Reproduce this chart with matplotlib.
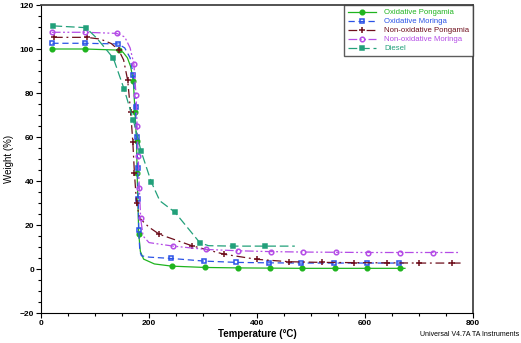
import matplotlib
matplotlib.use("Agg")
import matplotlib.pyplot as plt
from matplotlib.legend_handler import HandlerLine2D

plt.rcParams['font.family'] = ['Liberation Sans', 'DejaVu Sans']

# Oxidative Pongamia
ox_pon_x = [20, 81.5, 144, 152, 160, 166, 171, 174, 177, 178, 181, 184, 190, 210, 242, 304, 364, 424, 484, 544, 604, 665, 674]
ox_pon_y = [100, 100, 99.5, 98.5, 96, 92, 85.5, 71.5, 58, 43.6, 16, 8, 4.5, 2.3, 1.3, 0.7, 0.5, 0.4, 0.3, 0.3, 0.3, 0.3, 0.3]
ox_pon_mk = [0, 1, 2, 6, 7, 8, 9, 10, 14, 15, 16, 17, 18, 19, 20, 21]

# Oxidative Moringa
ox_mor_x = [21, 81.5, 143, 155, 165, 171, 175, 177, 179, 180, 181, 183, 186, 200, 241, 302, 362, 422, 482, 542, 603, 663, 672]
ox_mor_y = [102.6, 102.6, 102.3, 100.5, 96, 88, 73.8, 60, 45.7, 31.8, 17.7, 8, 6, 5.4, 4.8, 3.6, 3.0, 2.8, 2.7, 2.7, 2.7, 2.7, 2.7]
ox_mor_mk = [0, 1, 2, 5, 6, 7, 8, 9, 10, 14, 15, 16, 17, 18, 19, 20, 21]

# Non-oxidative Pongamia
nox_pon_x = [24, 84.6, 110, 130, 144, 153, 160.5, 166, 170, 173, 177, 183, 200, 219, 279, 339.5, 399.5, 460, 520, 580, 640, 700.5, 762, 777]
nox_pon_y = [105.3, 105.3, 104.5, 102.5, 99.5, 95, 85.8, 71.5, 57.9, 43.6, 29.8, 23, 19, 15.8, 10.6, 6.7, 4.4, 3.3, 3.0, 2.9, 2.8, 2.7, 2.7, 2.7]
nox_pon_mk = [0, 1, 4, 6, 7, 8, 9, 10, 13, 14, 15, 16, 17, 18, 19, 20, 21, 22]

# Non-oxidative Moringa
nox_mor_x = [20, 81.5, 140, 155, 165, 172, 176, 178, 180, 182, 184.6, 189, 200, 245, 305, 364, 425, 486, 546, 605, 665, 725, 773]
nox_mor_y = [107.6, 107.6, 107.1, 105.5, 100.5, 93.2, 79, 65, 51.4, 37, 23, 15, 12, 10.4, 8.9, 8.3, 7.9, 7.7, 7.6, 7.5, 7.5, 7.5, 7.5]
nox_mor_mk = [0, 1, 2, 5, 6, 7, 8, 9, 10, 13, 14, 15, 16, 17, 18, 19, 20, 21]

# Diesel
diesel_x = [23, 83, 103, 120, 134, 154, 171, 185, 204, 220, 248, 294, 310, 355, 415, 470]
diesel_y = [110.5, 109.7, 105, 100, 95.8, 81.7, 67.7, 53.8, 39.7, 31, 25.8, 12, 10.6, 10.4, 10.4, 10.4]
diesel_mk = [0, 1, 4, 5, 6, 7, 8, 10, 11, 13, 14]


class LeftMarker(HandlerLine2D):
    # marker at the left end of the legend line, like the TA software
    def get_xdata(self, legend, xdescent, ydescent, width, height, fontsize):
        return [-xdescent, -xdescent + width], [-xdescent]


fig = plt.figure(figsize=(5.21, 3.43), dpi=100)
ax = fig.add_axes([41 / 521, 1 - 313 / 343, 432 / 521, 308 / 343])

series = [
    (ox_pon_x, ox_pon_y, ox_pon_mk, '#1fb41f', '-', 'o', True, 'Oxidative Pongamia'),
    (ox_mor_x, ox_mor_y, ox_mor_mk, '#2a52e6', (0, (5, 3)), 's', False, 'Oxidative Moringa'),
    (nox_pon_x, nox_pon_y, nox_pon_mk, '#6e0f1c', (0, (7, 3, 1.5, 3)), '+', True, 'Non-oxidative Pongamia'),
    (nox_mor_x, nox_mor_y, nox_mor_mk, '#b44ce6', (0, (7, 2, 1.5, 2, 1.5, 2)), 'o', False, 'Non-oxidative Moringa'),
    (diesel_x, diesel_y, diesel_mk, '#22a07a', (0, (7, 3)), 's', True, 'Diesel'),
]

for x, y, mk, col, ls, m, filled, lab in series:
    ax.plot(x, y, color=col, linestyle=ls, linewidth=0.9, marker=m,
            markevery=mk, markersize=3.3 if m != '+' else 4.5,
            markerfacecolor=col if filled else 'none',
            markeredgecolor=col, markeredgewidth=1.1, label=lab)

ax.set_xlim(0, 800)
ax.set_ylim(-20, 120)
ax.set_xticks([0, 200, 400, 600, 800])
ax.set_xticks(range(0, 801, 50), minor=True)
ax.set_yticks(range(-20, 121, 20))
ax.set_yticks(range(-20, 121, 5), minor=True)
ax.tick_params(which='both', direction='out', top=False, right=False, labelsize=6, width=0.8, pad=1.5)
ax.tick_params(which='major', length=3.5)
ax.tick_params(which='minor', length=2)
for lbl in ax.get_xticklabels() + ax.get_yticklabels():
    lbl.set_fontweight('bold')
for sp in ['top', 'right']:
    ax.spines[sp].set_color('#444444')
    ax.spines[sp].set_linewidth(1.3)

ax.set_ylabel('Weight (%)', fontsize=7)
ax.yaxis.set_label_coords(-0.0625, 0.5)
fig.text(257 / 521, 1 - 334 / 343, 'Temperature (°C)', fontsize=7, fontweight='bold',
         ha='center', va='center')
fig.text(519 / 521, 1 - 335 / 343, 'Universal V4.7A TA Instruments', fontsize=5,
         ha='right', va='center')

leg = ax.legend(loc='upper right', bbox_to_anchor=(1.0, 1.0), borderaxespad=0.0,
                fontsize=5.6, frameon=True, fancybox=False, handlelength=3.6,
                handletextpad=1.0, labelspacing=0.2, borderpad=0.5,
                handler_map={plt.Line2D: LeftMarker()})
leg.get_frame().set_edgecolor('#333333')
leg.get_frame().set_linewidth(1.0)
for txt, s in zip(leg.get_texts(), series):
    txt.set_color(s[3])

fig.savefig('out.png', dpi=100)
